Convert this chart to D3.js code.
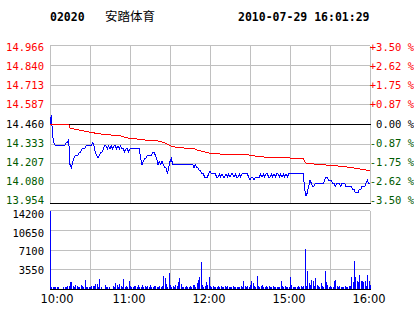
<!DOCTYPE html>
<html>
<head>
<meta charset="utf-8">
<script src="https://cdn.jsdelivr.net/npm/d3@7"></script>
<style>
  body { margin: 0; background: #fff; }
  svg { display: block; }
  .mono { font-family: "DejaVu Sans Mono", monospace; font-size: 10.5px; }
</style>
</head>
<body>
<div id="chart"></div>
<script>
// header texts
const stockCode = "02020";
const stockName = "安踏体育";
const stamp = "2010-07-29 16:01:29";

const prevClose = 14.46;
const priceTicks = ["14.966", "14.840", "14.713", "14.587", "14.460", "14.333", "14.207", "14.080", "13.954"];
const pctTicks = ["+3.50 %", "+2.62 %", "+1.75 %", "+0.87 %", "0.00 %", "-0.87 %", "-1.75 %", "-2.62 %", "-3.50 %"];
const volTicks = [14200, 10650, 7100, 3550];
const timeLabels = ["10:00", "11:00", "12:00", "15:00", "16:00"];
const timeMinutes = [0, 60, 120, 180, 240];

// one value per trading minute (10:00-12:30, 14:30-16:00)
const price = [
  14.46, 14.52, 14.38, 14.34, 14.32, 14.32, 14.32, 14.32, 14.32, 14.32,
  14.32, 14.32, 14.34, 14.34, 14.36, 14.20, 14.18, 14.22, 14.24, 14.26,
  14.26, 14.26, 14.28, 14.28, 14.30, 14.30, 14.30, 14.32, 14.32, 14.32,
  14.32, 14.32, 14.34, 14.32, 14.28, 14.26, 14.24, 14.26, 14.28, 14.28,
  14.30, 14.32, 14.32, 14.30, 14.32, 14.30, 14.32, 14.30, 14.32, 14.32,
  14.30, 14.32, 14.30, 14.32, 14.30, 14.30, 14.28, 14.30, 14.30, 14.28,
  14.30, 14.30, 14.30, 14.30, 14.30, 14.30, 14.30, 14.30, 14.24, 14.20,
  14.22, 14.24, 14.24, 14.26, 14.26, 14.26, 14.26, 14.28, 14.28, 14.26,
  14.24, 14.20, 14.22, 14.20, 14.22, 14.20, 14.18, 14.18, 14.14, 14.18,
  14.22, 14.24, 14.20, 14.20, 14.20, 14.20, 14.20, 14.20, 14.20, 14.20,
  14.20, 14.20, 14.20, 14.20, 14.20, 14.20, 14.20, 14.20, 14.18, 14.20,
  14.18, 14.18, 14.16, 14.16, 14.14, 14.14, 14.12, 14.12, 14.12, 14.14,
  14.16, 14.14, 14.14, 14.14, 14.14, 14.12, 14.12, 14.14, 14.12, 14.14,
  14.12, 14.12, 14.14, 14.12, 14.14, 14.12, 14.14, 14.14, 14.12, 14.14,
  14.12, 14.12, 14.14, 14.12, 14.14, 14.14, 14.14, 14.14, 14.14, 14.12,
  14.10, 14.12, 14.12, 14.10, 14.12, 14.12, 14.12, 14.12, 14.14, 14.12,
  14.14, 14.12, 14.14, 14.14, 14.12, 14.12, 14.14, 14.12, 14.14, 14.12,
  14.14, 14.14, 14.12, 14.14, 14.12, 14.14, 14.12, 14.14, 14.12, 14.14,
  14.14, 14.14, 14.14, 14.14, 14.14, 14.14, 14.14, 14.14, 14.14, 14.14,
  14.14, 14.04, 14.00, 14.02, 14.06, 14.10, 14.08, 14.06, 14.06, 14.08,
  14.08, 14.08, 14.08, 14.08, 14.08, 14.08, 14.10, 14.12, 14.12, 14.10,
  14.10, 14.10, 14.08, 14.08, 14.06, 14.08, 14.08, 14.08, 14.06, 14.08,
  14.08, 14.08, 14.06, 14.06, 14.06, 14.06, 14.06, 14.04, 14.04, 14.02,
  14.02, 14.02, 14.04, 14.04, 14.06, 14.06, 14.06, 14.08, 14.10, 14.08,
  14.08
];

const avgPrice = [
  14.460, 14.460, 14.460, 14.460, 14.460, 14.460, 14.460, 14.460, 14.460, 14.460,
  14.460, 14.460, 14.460, 14.460, 14.460, 14.434, 14.432, 14.430, 14.428, 14.426,
  14.424, 14.422, 14.421, 14.420, 14.418, 14.416, 14.413, 14.412, 14.410, 14.409,
  14.407, 14.406, 14.404, 14.403, 14.401, 14.399, 14.398, 14.397, 14.396, 14.395,
  14.393, 14.392, 14.391, 14.391, 14.390, 14.390, 14.389, 14.389, 14.388, 14.387,
  14.386, 14.385, 14.384, 14.383, 14.380, 14.378, 14.375, 14.373, 14.371, 14.370,
  14.370, 14.369, 14.368, 14.366, 14.365, 14.364, 14.363, 14.362, 14.361, 14.360,
  14.359, 14.358, 14.357, 14.357, 14.356, 14.355, 14.354, 14.354, 14.353, 14.352,
  14.352, 14.351, 14.349, 14.347, 14.345, 14.342, 14.340, 14.335, 14.330, 14.326,
  14.322, 14.319, 14.316, 14.314, 14.312, 14.310, 14.308, 14.307, 14.307, 14.307,
  14.307, 14.306, 14.306, 14.306, 14.306, 14.306, 14.306, 14.306, 14.302, 14.298,
  14.295, 14.292, 14.290, 14.288, 14.285, 14.283, 14.281, 14.279, 14.277, 14.275,
  14.273, 14.272, 14.271, 14.270, 14.270, 14.269, 14.268, 14.268, 14.267, 14.267,
  14.266, 14.266, 14.266, 14.265, 14.265, 14.265, 14.265, 14.265, 14.264, 14.264,
  14.264, 14.264, 14.264, 14.264, 14.263, 14.263, 14.263, 14.263, 14.263, 14.262,
  14.260, 14.258, 14.257, 14.256, 14.255, 14.253, 14.252, 14.251, 14.249, 14.249,
  14.249, 14.248, 14.248, 14.248, 14.248, 14.247, 14.247, 14.247, 14.247, 14.247,
  14.246, 14.246, 14.246, 14.246, 14.246, 14.245, 14.245, 14.245, 14.245, 14.243,
  14.242, 14.242, 14.241, 14.241, 14.240, 14.240, 14.239, 14.239, 14.239, 14.238,
  14.238, 14.217, 14.210, 14.209, 14.208, 14.207, 14.206, 14.205, 14.204, 14.203,
  14.203, 14.202, 14.201, 14.200, 14.200, 14.199, 14.198, 14.197, 14.196, 14.196,
  14.195, 14.194, 14.193, 14.193, 14.192, 14.191, 14.191, 14.190, 14.189, 14.188,
  14.187, 14.186, 14.185, 14.184, 14.183, 14.182, 14.181, 14.180, 14.178, 14.177,
  14.176, 14.175, 14.174, 14.171, 14.170, 14.168, 14.167, 14.165, 14.163, 14.163,
  14.163
];

const volume = [
  14000, 400, 400, 300, 400, 400, 400, 0, 0, 0,
  400, 400, 400, 500, 600, 1200, 1300, 500, 400, 800,
  600, 300, 400, 700, 500, 400, 1600, 400, 400, 300,
  400, 600, 500, 500, 900, 900, 400, 1800, 300, 0,
  0, 800, 400, 400, 400, 0, 0, 500, 400, 1100,
  700, 400, 900, 500, 400, 1800, 400, 500, 400, 1500,
  500, 400, 400, 500, 600, 400, 700, 400, 400, 800,
  400, 600, 400, 500, 400, 700, 400, 400, 600, 500,
  400, 400, 600, 400, 500, 2300, 1900, 900, 400, 2800,
  700, 400, 500, 400, 800, 500, 1200, 2000, 900, 400,
  400, 300, 500, 400, 400, 600, 400, 700, 800, 400,
  1100, 1600, 2200, 4850, 700, 400, 500, 1300, 800, 2200,
  500, 400, 500, 400, 300, 400, 600, 400, 500, 400,
  400, 600, 400, 500, 400, 400, 400, 500, 400, 400,
  300, 400, 400, 500, 400, 1400, 500, 400, 500, 400,
  800, 1400, 1100, 500, 400, 2400, 600, 400, 500, 700,
  400, 400, 600, 400, 500, 400, 400, 500, 400, 400,
  400, 400, 400, 1400, 600, 400, 500, 400, 400, 300,
  2100, 700, 400, 400, 300, 400, 500, 400, 600, 400,
  500, 7200, 600, 3300, 1000, 700, 1700, 1500, 500, 1900,
  700, 600, 400, 1100, 500, 400, 3300, 1200, 700, 400,
  500, 400, 300, 1400, 1600, 600, 400, 500, 400, 400,
  400, 500, 400, 400, 500, 600, 2100, 1200, 5000, 2200,
  1500, 1200, 2600, 1400, 1500, 1200, 1500, 600, 2600, 1500,
  700
];

const W = 414, H = 314;
const gridColor = "#c0c0c0";
const upColor = "#ff0000", downColor = "#005a00";

var svg = d3.select("#chart").append("svg").attr("width", W).attr("height", H);
svg.append("rect").attr("width", W).attr("height", H).attr("fill", "#fff");

// scales
var x = d3.scaleLinear().domain([0, 240]).range([50, 370]);
var lo = prevClose * (1 - 0.035), hi = prevClose * (1 + 0.035);
var y = d3.scaleLinear().domain([lo, hi]).range([203, 45]);
var labelY = d3.scaleLinear().domain([lo, hi]).range([203.8, 51.2]);
var vy = d3.scaleLinear().domain([0, 14200]).range([289, 210]);
var vLabelY = d3.scaleLinear().domain([0, 14200]).range([293.2, 217.6]);
var gridMinutes = d3.range(0, 241, 30);

// header
svg.append("text").attr("x", 50).attr("y", 21)
  .style("font", "bold 11.5px 'DejaVu Sans Mono'").text(stockCode);
svg.append("text").attr("x", 105).attr("y", 21)
  .style("font", "12.5px 'Noto Sans CJK SC'").text(stockName);
svg.append("text").attr("x", 238).attr("y", 21)
  .style("font", "bold 11.5px 'DejaVu Sans Mono'").text(stamp);

// price panel grid
var priceVals = priceTicks.map(Number);
var pricePanel = svg.append("g").attr("shape-rendering", "crispEdges");
pricePanel.selectAll(".hline").data(priceVals).enter().append("line")
  .attr("x1", 50).attr("x2", 370)
  .attr("y1", (d) => Math.round(y(d)) + 0.5).attr("y2", (d) => Math.round(y(d)) + 0.5)
  .attr("stroke", gridColor);
pricePanel.selectAll(".vline").data(gridMinutes).enter().append("line")
  .attr("x1", (d) => Math.round(x(d)) + 0.5).attr("x2", (d) => Math.round(x(d)) + 0.5)
  .attr("y1", Math.round(y(hi)) + 0.5).attr("y2", Math.round(y(lo)))
  .attr("stroke", gridColor);
// zero line and bottom edge in black, over the verticals
pricePanel.selectAll(".bline").data([priceVals[4], priceVals[8]]).enter().append("line")
  .attr("x1", 50).attr("x2", 371)
  .attr("y1", (d) => Math.round(y(d)) + 0.5).attr("y2", (d) => Math.round(y(d)) + 0.5)
  .attr("stroke", "#000");

function tickColor(i) {
  return i < 4 ? upColor : i === 4 ? "#000" : downColor;
}
svg.selectAll(".pl").data(priceTicks).enter().append("text")
  .attr("class", "mono").attr("x", 44).attr("y", (d) => labelY(+d))
  .attr("text-anchor", "end").attr("fill", (d, i) => tickColor(i)).text((d) => d);
svg.selectAll(".pr").data(pctTicks).enter().append("text")
  .attr("class", "mono").attr("x", 414).attr("y", (d, i) => labelY(priceVals[i]))
  .attr("text-anchor", "end").attr("fill", (d, i) => tickColor(i)).text((d) => d);

// price + average lines
var line = d3.line().x((d, i) => x(i)).y((d) => y(d));
svg.append("path").datum(price).attr("d", line)
  .attr("fill", "none").attr("stroke", "#0000ff").attr("stroke-width", 1)
  .attr("shape-rendering", "crispEdges");
svg.append("path").datum(avgPrice).attr("d", line)
  .attr("fill", "none").attr("stroke", "#ff0000").attr("stroke-width", 1)
  .attr("shape-rendering", "crispEdges");

// volume panel
var volPanel = svg.append("g").attr("shape-rendering", "crispEdges");
volPanel.selectAll(".hline").data([14200, 10650, 7100, 3550]).enter().append("line")
  .attr("x1", 50).attr("x2", 370)
  .attr("y1", (d) => Math.round(vy(d)) + 0.5).attr("y2", (d) => Math.round(vy(d)) + 0.5)
  .attr("stroke", gridColor);
volPanel.selectAll(".vline").data(gridMinutes).enter().append("line")
  .attr("x1", (d) => Math.round(x(d)) + 0.5).attr("x2", (d) => Math.round(x(d)) + 0.5)
  .attr("y1", Math.round(vy(14200)) + 0.5).attr("y2", Math.round(vy(0)))
  .attr("stroke", gridColor);

volPanel.selectAll(".bar").data(volume).enter().append("rect")
  .attr("x", (d, i) => Math.round(x(i)))
  .attr("y", (d) => Math.round(vy(d)))
  .attr("width", 1)
  .attr("height", (d) => Math.round(vy(0)) - Math.round(vy(d)))
  .attr("fill", "#0000ff");

volPanel.append("line").attr("x1", 50).attr("x2", 371)
  .attr("y1", Math.round(vy(0)) + 0.5).attr("y2", Math.round(vy(0)) + 0.5)
  .attr("stroke", "#000");

svg.selectAll(".vl").data(volTicks).enter().append("text")
  .attr("class", "mono").attr("x", 44).attr("y", (d) => vLabelY(d))
  .attr("text-anchor", "end").attr("fill", "#000").text((d) => d);

// time axis
var xAxis = svg.append("g").attr("transform", "translate(0, 303)")
  .call(d3.axisBottom(x).tickValues(timeMinutes).tickSize(0)
    .tickFormat((d, i) => timeLabels[i]));
xAxis.select(".domain").remove();
xAxis.selectAll("text")
  .attr("y", 0).attr("dy", null)
  .attr("x", (d, i) => (i === 0 ? 40 - x(d) : -1.5))
  .attr("text-anchor", (d, i) => (i === 0 ? "start" : "middle"))
  .style("font-family", "'DejaVu Sans'").style("font-size", "11.5px")
  .attr("fill", "#000");
</script>
</body>
</html>
